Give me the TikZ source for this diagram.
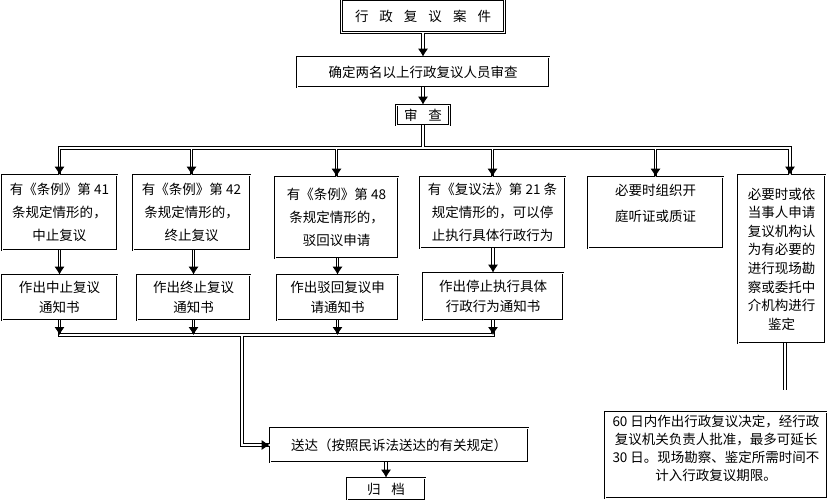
\documentclass[tikz,border=0pt]{standalone}
\usepackage{fontspec}
\setmainfont{Noto Sans CJK SC}
\usetikzlibrary{arrows.meta}

\newcommand{\wsp}{\hspace{11pt}}

\begin{document}
\begin{tikzpicture}[x=1pt, y=-1pt, font=\fontsize{13.5}{20}\selectfont,
  box/.style={draw, double, line width=0.7pt, double distance=0.8pt,
    align=center, inner sep=1pt},
  tall/.style={box, font=\fontsize{13.5}{23}\selectfont},
  link/.style={double, line width=0.8pt, double distance=1.6pt},
  tip/.style={-{Latex[length=8pt,width=10pt]}}]

  \useasboundingbox (0,0) rectangle (827,500);

  % --- top column ---
  \node[box, minimum width=163pt, minimum height=33pt] (case) at (423,16)
    {行\wsp 政\wsp 复\wsp 议\wsp 案\wsp 件};
  \node[box, minimum width=252pt, minimum height=30pt] (assign) at (423,72)
    {确定两名以上行政复议人员审查};
  \node[box, minimum width=53pt, minimum height=20pt] (review) at (423,115)
    {审\wsp 查};

  \draw[link, tip] (case) -- (assign);
  \draw[link, tip] (assign) -- (review);

  % --- first row ---
  \node[tall, minimum width=115pt, minimum height=75pt] (art41) at (59.5,212.5)
    {有《条例》第 41\\条规定情形的，\\中止复议};
  \node[tall, minimum width=117pt, minimum height=75pt] (art42) at (191.5,212.5)
    {有《条例》第 42\\条规定情形的，\\终止复议};
  \node[tall, minimum width=123pt, minimum height=81pt] (art48) at (336.5,217.5)
    {有《条例》第 48\\条规定情形的，\\驳回议申请};
  \node[tall, minimum width=145pt, minimum height=71pt] (art21) at (492.5,212.5)
    {有《复议法》第 21 条\\规定情形的，可以停\\止执行具体行政行为};
  \node[box, minimum width=135pt, minimum height=71pt] (hearing) at (655.5,212.5)
    {\parbox[c][56pt][t]{120pt}{\centering\fontsize{13.5}{26}\selectfont
     必要时组织开\\庭听证或质证}};
  \node[box, font=\fontsize{13.5}{18.6}\selectfont,
    minimum width=87pt, minimum height=168pt] (survey) at (781.5,259)
    {必要时或依\\当事人申请\\复议机构认\\为有必要的\\进行现场勘\\察或委托中\\介机构进行\\鉴定};

  % fan out from review
  \coordinate (bus) at (423,148);
  \draw[link] (review.south) -- (bus)
    (art41.north) |- (bus) -| ([xshift=8.5pt]survey.north)
    (art42.north |- bus) -- (art42.north)
    (art48.north |- bus) -- (art48.north)
    (art21.north |- bus) -- (art21.north)
    (hearing.north |- bus) -- (hearing.north);
  \foreach \n in {art41, art42, art48, art21, hearing}
    \draw[link, tip] ([yshift=9pt]\n.north) -- (\n.north);
  \draw[link, tip] ([xshift=8.5pt, yshift=9pt]survey.north)
    -- ([xshift=8.5pt]survey.north);

  % --- second row ---
  \node[box, minimum width=115pt, minimum height=45pt] (stop41) at (59.5,297.5)
    {作出中止复议\\通知书};
  \node[box, minimum width=113pt, minimum height=45pt] (stop42) at (193.5,297.5)
    {作出终止复议\\通知书};
  \node[box, minimum width=121pt, minimum height=45pt] (reject48) at (337.5,297.5)
    {作出驳回复议申\\请通知书};
  \node[box, minimum width=140pt, minimum height=47pt] (halt21) at (493,296.5)
    {作出停止执行具体\\行政行为通知书};

  \foreach \a/\b in {art41/stop41, art42/stop42, art48/reject48, art21/halt21}
    \draw[link, tip] (\b.north |- \a.south) -- (\b.north);

  % --- delivery ---
  \node[box, minimum width=258pt, minimum height=34pt] (deliver) at (399,445)
    {送达（按照民诉法送达的有关规定）};
  \node[box, minimum width=78pt, minimum height=22pt] (archive) at (386,489)
    {归\wsp 档};

  \coordinate (sink) at (242,335);
  \draw[link] (stop41.south) |- (halt21.south |- sink) -- (halt21.south)
    (stop42.south) -- (stop42.south |- sink)
    (reject48.south) -- (reject48.south |- sink)
    (sink) |- (deliver.west);
  \foreach \n in {stop41, stop42, reject48, halt21}
    \draw[link, tip] (\n.south) -- (\n.south |- sink);
  \draw[link, tip] ([xshift=-12pt]deliver.west) -- (deliver.west);
  \draw[link, tip] (archive.north |- deliver.south) -- (archive.north);

  % --- time limit ---
  \coordinate (cut) at (785,390);
  \draw[link] (cut |- survey.south) -- (cut);

  \node[box, minimum width=222pt, minimum height=86pt] (limit) at (716,455)
    {\parbox[c][80pt][t]{216pt}{\centering\fontsize{13.5}{18}\selectfont
     60 日内作出行政复议决定，经行政\\复议机关负责人批准，最多可延长\\30 日。现场勘察、鉴定所需时间不\\计入行政复议期限。}};

\end{tikzpicture}
\end{document}
